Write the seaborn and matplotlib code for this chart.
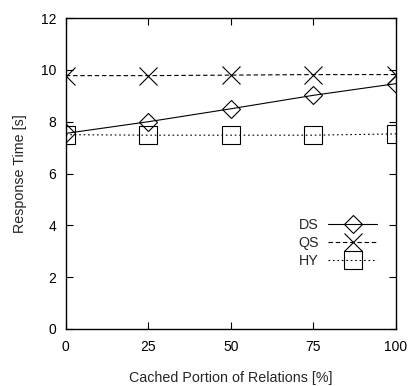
import matplotlib
matplotlib.use("Agg")
import matplotlib.pyplot as plt
import seaborn as sns

# cached portion of relations [%]
cached = [0, 25, 50, 75, 100]
# response time [s] per strategy
ds_time = [7.55, 8.0, 8.5, 9.02, 9.47]
qs_time = [9.78, 9.78, 9.8, 9.82, 9.82]
hy_time = [7.5, 7.48, 7.48, 7.48, 7.53]

series = [
    ("DS", ds_time, "D", 9.6, "-"),
    ("QS", qs_time, "x", 13.5, (0, (4, 2.5))),
    ("HY", hy_time, "s", 13.5, (0, (1.5, 2.5))),
]

sns.set_theme(style="ticks")
plt.rcParams["font.family"] = ["Liberation Sans", "DejaVu Sans"]

fig = plt.figure(figsize=(4.09, 3.86), dpi=100)
ax = fig.add_axes([0.161, 0.148, 0.807, 0.805])

for name, vals, mk, ms, ls in series:
    sns.lineplot(x=cached, y=vals, ax=ax, label=name, color="black",
                 linewidth=0.8, linestyle=ls, marker=mk, markersize=ms,
                 markerfacecolor="none", markeredgecolor="black",
                 markeredgewidth=0.8)

ax.set_xlim(0, 100)
ax.set_ylim(0, 12)
ax.set_xticks(cached)
ax.set_yticks(range(0, 13, 2))
ax.tick_params(direction="in", length=5, width=0.8, top=True, right=True,
               labelsize=10, colors="black")
ax.tick_params(axis="x", pad=8)
ax.tick_params(axis="y", pad=7)
for sp in ax.spines.values():
    sp.set_linewidth(1.0)
    sp.set_color("black")
ax.set_xlabel("Cached Portion of Relations [%]", fontsize=10.3, labelpad=12)
ax.set_ylabel("Response Time [s]", fontsize=10.3, labelpad=10)

ax.legend(loc="center right", bbox_to_anchor=(0.943, 0.275), frameon=False,
          markerfirst=False, numpoints=1, handlelength=3.4, fontsize=10.3,
          labelspacing=0.28, borderpad=0, borderaxespad=0, handletextpad=0.7)

fig.savefig("out.png", dpi=100)
